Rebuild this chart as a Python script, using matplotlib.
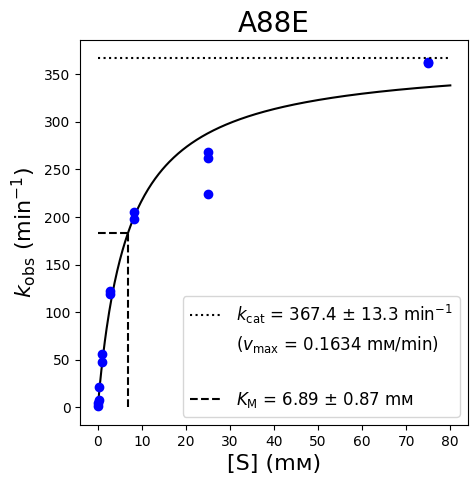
import numpy as np
import matplotlib
matplotlib.use('Agg')
import matplotlib.pyplot as plt
from matplotlib.lines import Line2D

# substrate concentrations (mM) and observed rates (1/min)
s_conc = [0.05, 0.05, 0.2, 0.2, 1, 1, 2.7, 2.7, 8.3, 8.3, 25, 25, 25, 75, 75]
k_obs = [2, 5, 8, 21, 48, 56, 119, 122, 198, 205, 224, 262, 268, 362, 363]

kcat = 367.4
kcat_err = 13.3
vmax = 0.1634
km = 6.89
km_err = 0.87
title = 'A88E'

def mm(s, kc, k):
    return kc*s/(k+s)

fig = plt.figure(figsize=(4.77, 4.84), dpi=100)
ax = fig.add_axes([0.168, 0.122, 0.813, 0.795])

sfit = np.linspace(0, 80, 400)
ax.plot(sfit, mm(sfit, kcat, km), 'k-')
ax.plot(s_conc, k_obs, 'bo')

l1, = ax.plot([0, 80], [kcat, kcat], 'k:')
l2, = ax.plot([0, km], [kcat/2, kcat/2], 'k--')
ax.plot([km, km], [0, kcat/2], 'k--')

blank = Line2D([], [], linestyle='none')
ax.legend([l1, blank, blank, l2],
          [r'$k_\mathrm{cat}$ = %.1f $\pm$ %.1f min$^{-1}$' % (kcat, kcat_err),
           r'($v_\mathrm{max}$ = %.4f mᴍ/min)' % vmax,
           '',
           r'$K_\mathrm{M}$ = %.2f $\pm$ %.2f mᴍ' % (km, km_err)],
          loc='lower right', fontsize=12)

ax.set_title(title, fontsize=20)
ax.set_xlabel('[S] (mᴍ)', fontsize=16)
ax.set_ylabel(r'$k_\mathrm{obs}$ (min$^{-1}$)', fontsize=16)

fig.savefig('out.png')
